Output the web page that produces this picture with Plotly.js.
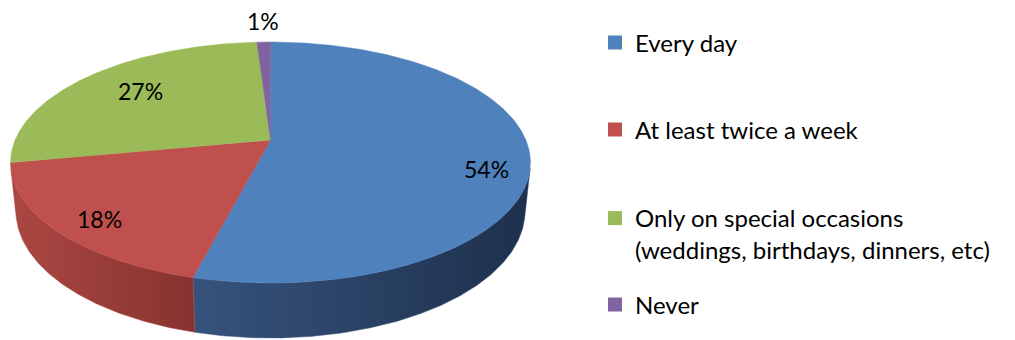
<!DOCTYPE html>
<html><head><meta charset="utf-8">
<script src="https://cdn.plot.ly/plotly-3.0.1.min.js"></script>
<style>html,body{margin:0;padding:0;background:#fff;} #chart{width:1015px;height:340px;}</style>
</head><body><div id="chart"></div>
<script>
// ---- data ----
const categories = ["Every day", "At least twice a week", "Only on special occasions<br>(weddings, birthdays, dinners, etc)", "Never"];
const values = [54, 18, 27, 1];
const valueLabels = ["54%", "18%", "27%", "1%"];

// ---- styles ----
const topColors = ["#4F81BD", "#C0504D", "#9BBB59", "#8064A2"];
const sideColors = [["#36537D", "#1E304C"], ["#AC4743", "#86332F"], ["#7E9A45", "#62783A"], ["#67508A", "#4E3D6B"]];
const labelRadius = [0.835, 0.824, 0.698, 1.2];
const labelShiftY = [17, 6, -3, -5];
const FONT = "Lato, 'Open Sans', sans-serif";

// ---- 3D perspective projection of a tilted disc ----
const CX = 270.5, CY = 140, FOC = 1217.3, RAD = 0.2098, DEPTH = 0.045;
const SINP = 0.4554, COSP = 0.8903;
function proj(t, p, y) {
  const X = p * RAD * Math.sin(t), Z = p * RAD * Math.cos(t);
  const ys = y * COSP + Z * SINP;
  const zc = -y * SINP + Z * COSP + 1;
  return [CX + FOC * X / zc, CY - FOC * ys / zc];
}
function arc(a, b, p, y) {
  const n = Math.max(2, Math.ceil(Math.abs(b - a) / (Math.PI / 360)));
  const pts = [];
  for (let i = 0; i <= n; i++) pts.push(proj(a + (b - a) * i / n, p, y));
  return pts;
}

const total = values.reduce((s, v) => s + v, 0);
const starts = [], ends = [];
let acc = 0;
values.forEach(v => { starts.push(acc / total * 2 * Math.PI); acc += v; ends.push(acc / total * 2 * Math.PI); });

const vis0 = Math.acos(-RAD / COSP), vis1 = 2 * Math.PI - vis0;
const traces = [];
// side faces
values.forEach((v, i) => {
  const a = Math.max(starts[i], vis0), b = Math.min(ends[i], vis1);
  if (b <= a) return;
  const topA = arc(a, b, 1, 0), botA = arc(b, a, 1, -DEPTH);
  const pts = topA.concat(botA);
  pts.push(pts[0]);
  traces.push({
    type: "scatter", mode: "lines", fill: "toself",
    x: pts.map(q => q[0]), y: pts.map(q => q[1]),
    line: {width: 0.5, color: sideColors[i][0]},
    fillcolor: sideColors[i][0],
    fillgradient: {type: "horizontal", colorscale: [[0, sideColors[i][0]], [1, sideColors[i][1]]]},
    showlegend: false, hoverinfo: "skip"
  });
});
// top faces
values.forEach((v, i) => {
  const c = proj(0, 0, 0);
  const pts = [c].concat(arc(starts[i], ends[i], 1, 0));
  pts.push(c);
  traces.push({
    type: "scatter", mode: "lines", fill: "toself",
    x: pts.map(q => q[0]), y: pts.map(q => q[1]),
    line: {width: 0.5, color: topColors[i]},
    fillcolor: topColors[i],
    showlegend: false, hoverinfo: "skip"
  });
});
// legend entries
categories.forEach((name, i) => {
  traces.push({
    type: "scatter", mode: "markers", x: [null], y: [null], name: name,
    marker: {symbol: "square", size: 14, color: topColors[i]},
    legend: i === 0 ? "legend" : "legend" + (i + 1), showlegend: true
  });
});

// value labels
const annotations = values.map((v, i) => {
  const mid = (starts[i] + ends[i]) / 2;
  const q = proj(mid, labelRadius[i], 0);
  return {x: q[0], y: q[1] + labelShiftY[i], xref: "x", yref: "y", text: valueLabels[i],
    showarrow: false, font: {family: FONT, size: 23, color: "#000"}, xanchor: "center", yanchor: "middle"};
});

const legendCenters = [43, 130, 234, 305];
const layout = {
  width: 1015, height: 340,
  margin: {l: 0, r: 0, t: 0, b: 0},
  paper_bgcolor: "#fff", plot_bgcolor: "#fff",
  xaxis: {range: [0, 1015], visible: false, fixedrange: true},
  yaxis: {range: [340, 0], visible: false, fixedrange: true},
  annotations: annotations,
  hovermode: false
};
legendCenters.forEach((yc, i) => {
  layout[i === 0 ? "legend" : "legend" + (i + 1)] = {
    x: 595 / 1015, xanchor: "left", y: 1 - yc / 340, yanchor: "middle",
    valign: "top", bgcolor: "rgba(0,0,0,0)", borderwidth: 0,
    font: {family: FONT, size: 24, color: "#000"}
  };
});

Plotly.newPlot("chart", traces, layout, {displayModeBar: false, staticPlot: true});
</script>
</body></html>
